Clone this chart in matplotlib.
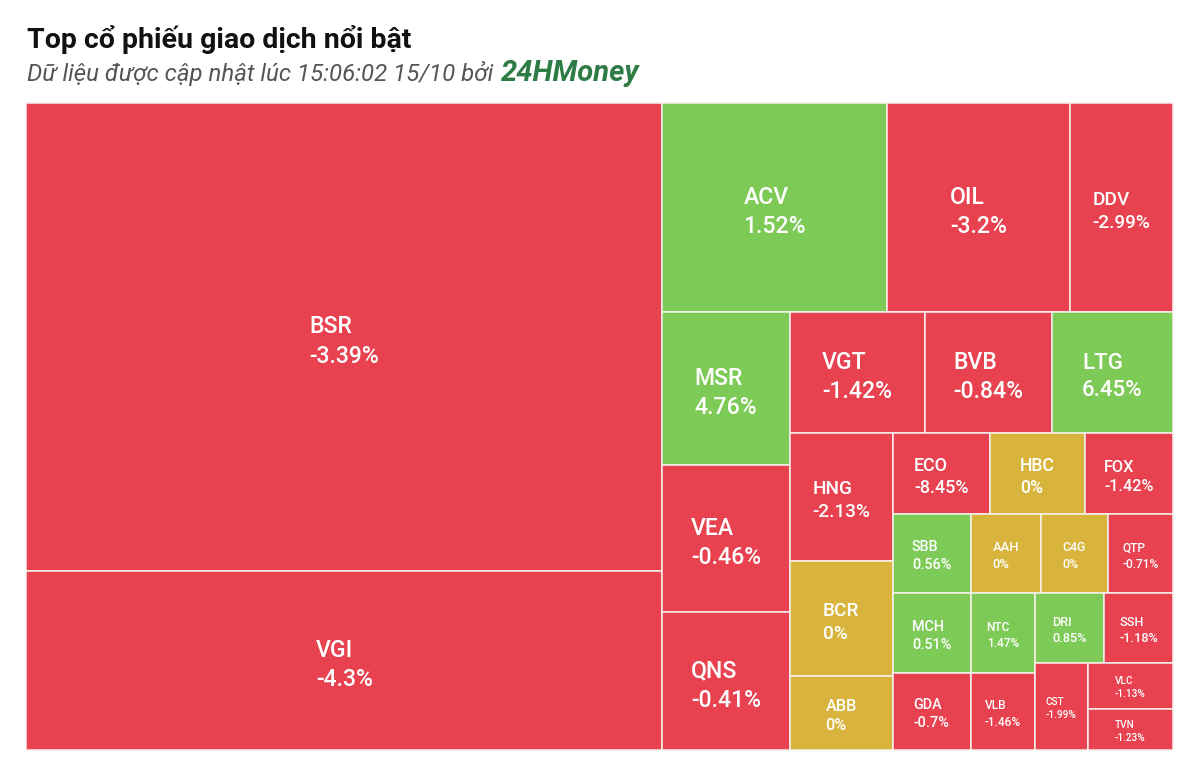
import matplotlib
matplotlib.use('Agg')
import matplotlib.pyplot as plt
from matplotlib.patches import Rectangle

# ---------------- data ----------------
tickers = ['BSR', 'VGI', 'ACV', 'OIL', 'DDV', 'MSR', 'VEA', 'QNS', 'VGT', 'BVB',
           'LTG', 'HNG', 'BCR', 'ABB', 'ECO', 'HBC', 'FOX', 'SBB', 'MCH', 'GDA',
           'AAH', 'C4G', 'QTP', 'NTC', 'VLB', 'DRI', 'SSH', 'CST', 'VLC', 'TVN']
trade_value = [297.65, 113.84, 46.82, 38.25, 21.53, 19.43, 18.67, 17.53, 16.34, 15.37,
               14.64, 13.18, 11.85, 7.62, 7.86, 7.70, 7.13, 6.16, 6.24, 6.01,
               5.53, 5.29, 5.14, 5.12, 4.93, 4.83, 4.83, 4.62, 3.93, 3.50]
pct_change = [-3.39, -4.3, 1.52, -3.2, -2.99, 4.76, -0.46, -0.41, -1.42, -0.84,
              6.45, -2.13, 0, 0, -8.45, 0, -1.42, 0.56, 0.51, -0.7,
              0, 0, -0.71, 1.47, -1.46, 0.85, -1.18, -1.99, -1.13, -1.23]

title = 'Top cổ phiếu giao dịch nổi bật'
subtitle = 'Dữ liệu được cập nhật lúc 15:06:02 15/10 bởi '
brand = '24HMoney'

RED, GREEN, YELLOW = '#E8414F', '#7DCB56', '#D9B43C'


class Group:
    """Row/column accumulator of the 'low aspect ratio' squarified treemap."""

    def __init__(self, h, w, d):
        self.height, self.width, self.direction = h, w, d
        self.total = 0.0
        self.nW = self.lW = self.nH = self.lH = 0.0
        self.el = []
        self.lR = self.nR = float('nan')

    def add(self, a):
        prev = self.el[-1] if self.el else None
        self.total += a
        if self.direction == 0:
            self.lW = self.nW
            self.nW = self.total / self.height
            if prev is None:
                self.lR = self.nR = float('nan')
            else:
                lh = prev / self.lW
                self.lR = max(self.lW / lh, lh / self.lW)
                nh = prev / self.nW
                self.nR = max(self.nW / nh, nh / self.nW)
        else:
            self.lH = self.nH
            self.nH = self.total / self.width
            if prev is None:
                self.lR = self.nR = float('nan')
            else:
                lw = prev / self.lH
                self.lR = max(lw / self.lH, self.lH / lw)
                nw = prev / self.nH
                self.nR = max(nw / self.nH, self.nH / nw)
        self.el.append(a)

    def reset(self):
        self.nW = self.lW = 0.0
        self.el = []
        self.total = 0.0


def squarified(values, x0, y0, W0, H0):
    tot = float(sum(values))
    areas = [W0 * H0 * v / tot for v in values]
    rects = []
    g = Group(H0, W0, 0)
    pos = [x0, y0]

    def calc(last):
        if last:
            gW, gH = g.nW, g.nH
            use = list(g.el)
        else:
            gW, gH = g.lW, g.lH
            keep = g.el[-1]
            use = g.el[:-1]
        for a in use:
            if g.direction == 0:
                w, h = gW, a / gW
                rects.append((pos[0], pos[1], w, h))
                pos[1] += h
            else:
                w, h = a / gH, gH
                rects.append((pos[0], pos[1], w, h))
                pos[0] += w
        g.reset()
        if g.direction == 0:
            g.width -= gW
        else:
            g.height -= gH
        pos[1] = y0 + (H0 - g.height)
        pos[0] = x0 + (W0 - g.width)
        g.direction = 1 - g.direction
        if not last:
            g.add(keep)

    end = len(areas) - 1
    for i, a in enumerate(areas):
        g.add(a)
        if g.nR > g.lR:
            calc(False)
        if i == end:
            calc(True)
    return rects


W, H = 1200, 774
fig = plt.figure(figsize=(W / 100, H / 100), dpi=100)
ax = fig.add_axes([0, 0, 1, 1])
ax.set_xlim(0, W)
ax.set_ylim(H, 0)
ax.axis('off')

rects = squarified(trade_value, 26, 103, 1147, 647)
PX2PT = 72 / 100
for (x, y, w, h), t, p in zip(rects, tickers, pct_change):
    color = GREEN if p > 0 else (RED if p < 0 else YELLOW)
    ax.add_patch(Rectangle((x, y), w, h, facecolor=color, edgecolor='#f6f1ec',
                           linewidth=1.1))
    fs_px = max(min(0.185 * w, 0.22 * h, 23), 10)
    ax.text(x + w / 2, y + h / 2 + 0.2 * fs_px, f'{t}\n{p:g}%', ha='center',
            va='center', multialignment='left', color='white',
            fontsize=fs_px * PX2PT, family='Roboto', fontweight='medium',
            linespacing=1.35)

ax.text(27, 48, title, fontsize=20.5, fontweight='bold', family='Roboto',
        color='#111111', va='baseline', ha='left')
st = ax.text(27, 81, subtitle, fontsize=17.3, style='italic', family='Roboto',
             color='#555555', va='baseline', ha='left')
fig.canvas.draw()
bb = st.get_window_extent()
x_end = ax.transData.inverted().transform((bb.x1, bb.y0))[0]
ax.text(x_end + 2, 81, brand, fontsize=21, style='italic', fontweight='bold',
        family='Roboto', color='#2E7B45', va='baseline', ha='left')

fig.savefig('out.png', dpi=100, facecolor='white')
